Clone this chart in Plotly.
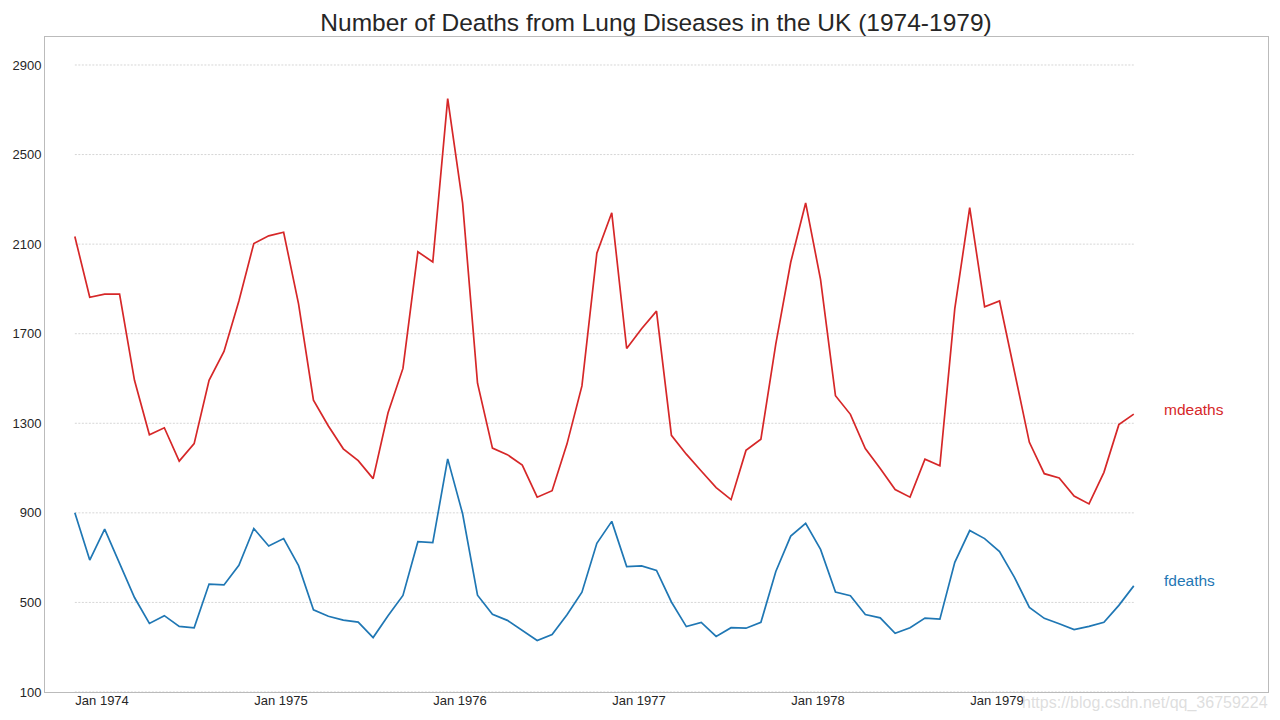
import plotly.graph_objects as go

months = ["Jan", "Feb", "Mar", "Apr", "May", "Jun", "Jul", "Aug", "Sep", "Oct", "Nov", "Dec"]
years = [1974, 1975, 1976, 1977, 1978, 1979]
dates = [f"{m} {y}" for y in years for m in months]

mdeaths = [2134, 1863, 1877, 1877, 1492, 1249, 1280, 1131, 1209, 1492, 1621, 1846,
           2103, 2137, 2153, 1833, 1403, 1288, 1186, 1133, 1053, 1347, 1545, 2066,
           2020, 2750, 2283, 1479, 1189, 1160, 1113, 970, 999, 1208, 1467, 2059,
           2240, 1634, 1722, 1801, 1246, 1162, 1087, 1013, 959, 1179, 1229, 1655,
           2019, 2284, 1942, 1423, 1340, 1187, 1098, 1004, 970, 1140, 1110, 1812,
           2263, 1820, 1846, 1531, 1215, 1075, 1056, 975, 940, 1081, 1294, 1341]
fdeaths = [901, 689, 827, 677, 522, 406, 441, 393, 387, 582, 578, 666,
           830, 752, 785, 664, 467, 438, 421, 412, 343, 440, 531, 771,
           767, 1141, 896, 532, 447, 420, 376, 330, 357, 445, 546, 764,
           862, 660, 663, 643, 502, 392, 411, 348, 387, 385, 411, 638,
           796, 853, 737, 546, 530, 446, 431, 362, 387, 430, 425, 679,
           821, 785, 727, 612, 478, 429, 405, 379, 393, 411, 487, 574]

series = {"mdeaths": (mdeaths, "#d62728"), "fdeaths": (fdeaths, "#1f77b4")}
y_ticks = list(range(100, 3025, 400))
x_tickvals = list(range(0, len(dates), 12))
x_ticktext = [dates[i] for i in x_tickvals]

idx = list(range(len(dates)))
font = "Liberation Sans, Arial, sans-serif"

W, H = 1272, 712  # page body has an 8px margin

fig = go.Figure()
for name, (vals, color) in series.items():
    fig.add_trace(go.Scatter(x=idx, y=vals, mode="lines", name=name,
                             line=dict(color=color, width=1.7), hoverinfo="x+y"))
    fig.add_annotation(x=len(dates) + 1, y=vals[-1], text=name, showarrow=False,
                       xanchor="left", yanchor="middle", xshift=-2, yshift=5,
                       font=dict(size=15.5, color=color, family=font))

shapes = []
for yv in y_ticks:
    shapes.append(dict(type="line", xref="x", yref="y", x0=0, x1=len(dates) - 1,
                       y0=yv, y1=yv, layer="below",
                       line=dict(color="rgba(0,0,0,0.28)", width=0.6, dash="2px,1.5px")))

fig.add_annotation(xref="paper", yref="paper", x=1.0015, y=-0.017, xanchor="right", yanchor="middle",
                   text="https://blog.csdn.net/qq_36759224", showarrow=False,
                   font=dict(size=16, color="rgba(200,200,200,0.6)", family=font))

fig.update_layout(
    width=W, height=H,
    margin=dict(l=37, r=12, t=29, b=28, autoexpand=False),
    paper_bgcolor="white", plot_bgcolor="white",
    showlegend=False,
    shapes=shapes,
    title=dict(text="Number of Deaths from Lung Diseases in the UK (1974-1979)",
               x=648 / W, xanchor="center", y=1 - 14 / H, yanchor="middle",
               font=dict(size=24.5, color="#262626", family=font)),
    xaxis=dict(range=[-2, 80], tickvals=x_tickvals, ticktext=x_ticktext,
               showgrid=False, zeroline=False, ticks="",
               ticklabelposition="outside right", ticklabelstandoff=-4,
               showline=True, linecolor="#bbbbbb", linewidth=1, mirror=True,
               tickfont=dict(size=13, color="#262626", family=font)),
    yaxis=dict(range=[100, 3025], tickvals=y_ticks, showgrid=False, zeroline=False,
               ticks="", showline=True, linecolor="#bbbbbb", linewidth=1, mirror=True,
               tickfont=dict(size=13, color="#262626", family=font)),
)

fig.write_html("out.html")
